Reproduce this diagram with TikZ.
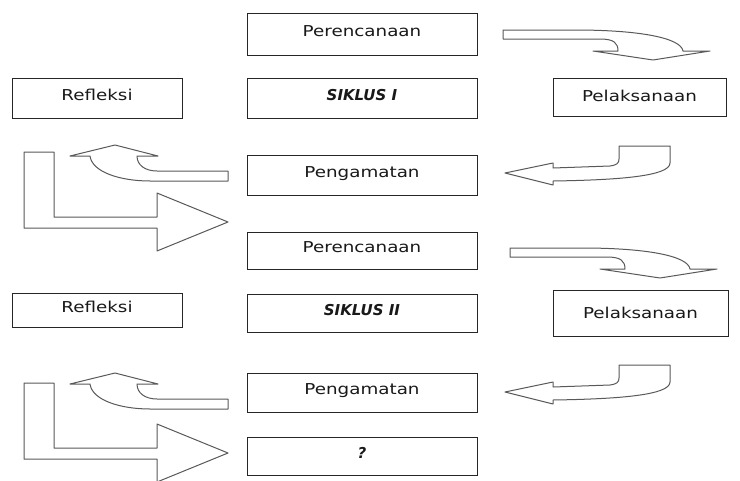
\documentclass[tikz,border=0pt]{standalone}
\usepackage{fontspec}
\newfontfamily\boxfont{DejaVu Sans}[FakeStretch=1.22]
\newfontfamily\titlefont{DejaVu Sans}
\tikzset{
  box/.style={draw=black!85, line width=0.9pt, rectangle, inner sep=0pt,
    font=\boxfont\fontsize{15}{18}\selectfont, text=black!90,
    text height=11pt, text depth=7pt},
  wide/.style={minimum width=230pt},
  side/.style={minimum width=170pt},
  blockarrow/.style={draw=black!65, line width=1pt, fill=white, line join=round},
  % shaft running right, bending down into a flat head
  curvedown/.pic={
    \draw[blockarrow] (503,30) -- (575,30) .. controls (640,30) and (681,38) .. (683,51)
      -- (710,51) -- (653,60) -- (593,51) -- (618,51)
      .. controls (618,43) and (614,39) .. (600,39) -- (503,39) -- cycle;
  },
  % hook dropping from the top and pointing left
  hookleft/.pic={
    \draw[blockarrow] (619,146) -- (670,146) -- (670,163)
      .. controls (670,176) and (620,180) .. (553,181) -- (553,185) -- (505,173)
      -- (553,163) -- (553,168) -- (610,166)
      .. controls (617,165) and (619,163) .. (619,159) -- cycle;
  },
  % shaft running left, bending up into a flat head
  curveup/.pic={
    \draw[blockarrow] (228,171) -- (157,171) .. controls (145,171) and (137,165) .. (137,156)
      -- (158,156) -- (115,145) -- (70,156) -- (90,156)
      .. controls (92,172) and (120,181) .. (150,181) -- (228,181) -- cycle;
  },
  % L-shaped arrow pointing right
  elbowright/.pic={
    \draw[blockarrow] (24,152) -- (54,152) -- (54,217) -- (157,217) -- (157,193)
      -- (228,222) -- (157,251) -- (157,228) -- (24,228) -- cycle;
  }
}
\begin{document}
\begin{tikzpicture}[x=1pt,y=-1pt]
\useasboundingbox (0,0) rectangle (740,480);
\clip (0,0) rectangle (740,480);
\fill[white] (0,0) rectangle (740,480);

% first cycle
\node[box, wide, minimum height=42pt] (plan1) at (362,34) {Perencanaan};
\node[box, wide, minimum height=40pt] (cyc1) at (362,98) {\titlefont\bfseries\itshape SIKLUS I};
\node[box, side, minimum height=40pt] (refl1) at (97,98) {Refleksi};
\node[box, minimum width=173pt, minimum height=38pt, text depth=3pt] (act1) at (639.5,97) {Pelaksanaan};
\node[box, wide, minimum height=40pt] (obs1) at (362,175) {Pengamatan};

% second cycle
\node[box, wide, minimum height=37pt] (plan2) at (362,250.5) {Perencanaan};
\node[box, wide, minimum height=38pt] (cyc2) at (362,313) {\titlefont\bfseries\itshape SIKLUS II};
\node[box, side, minimum height=34pt] (refl2) at (97,310) {Refleksi};
\node[box, minimum width=175pt, minimum height=46pt, text depth=0pt] (act2) at (640.5,313) {Pelaksanaan};
\node[box, wide, minimum height=39pt] (obs2) at (362,392.5) {Pengamatan};
\node[box, wide, minimum height=38pt] (next) at (362,456) {\titlefont\bfseries\itshape ?};

% block arrows of the first cycle
\pic at (0,0) {curvedown};
\pic at (0,0) {hookleft};
\pic at (0,0) {curveup};
\pic at (0,0) {elbowright};

% block arrows of the second cycle
\pic at (7,218) {curvedown};
\pic at (0,219) {hookleft};
\pic at (0,228) {curveup};
\pic at (0,231) {elbowright};
\end{tikzpicture}
\end{document}
